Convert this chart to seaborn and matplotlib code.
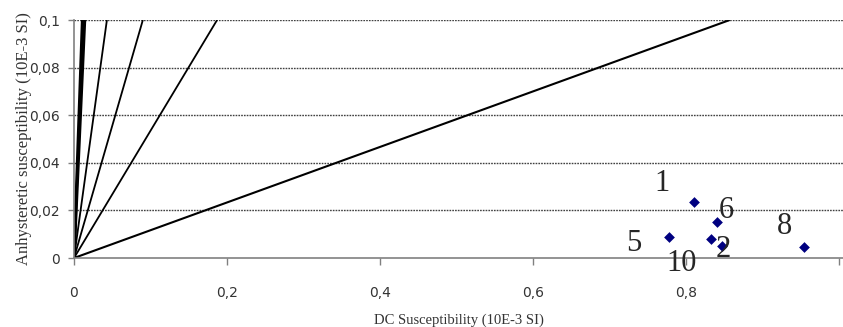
import numpy as np
import pandas as pd
import matplotlib
matplotlib.use("Agg")
import matplotlib.pyplot as plt
import seaborn as sns

# sample points (DC susceptibility, anhysteretic susceptibility), 10E-3 SI
sample_ids = ["1", "6", "5", "10", "2", "8"]
dc_chi = [0.810, 0.840, 0.777, 0.833, 0.847, 0.954]
arm_chi = [0.0235, 0.0150, 0.0090, 0.0080, 0.0050, 0.0048]

# where each reference line from the origin meets the top (y = 0.1)
line_top_x = [0.011, 0.014, 0.043, 0.090, 0.187, 0.857]
line_top_y = 0.1
line_widths = [2.2, 2.2, 1.3, 1.3, 1.3, 1.5]

# label positions (data units) next to the points
label_x = [0.768, 0.853, 0.732, 0.794, 0.848, 0.928]
label_y = [0.0315, 0.0198, 0.0062, -0.0022, 0.0034, 0.0134]

sns.set_style("white")
plt.rcParams["font.family"] = ["DejaVu Sans"]

fig = plt.figure(figsize=(8.43, 3.27), dpi=100)
ax = fig.add_axes([74 / 843, 69 / 327, 769 / 843, 238 / 327])

for xe, lw in zip(line_top_x, line_widths):
    ax.plot([0, xe], [0, line_top_y], color="black", lw=lw, solid_capstyle="butt", zorder=2)

df = pd.DataFrame({"dc": dc_chi, "arm": arm_chi, "id": sample_ids})
sns.scatterplot(data=df, x="dc", y="arm", marker="D", s=30, color="#000080",
                edgecolor="#000080", linewidth=0, ax=ax, zorder=3)

for t, lx, ly in zip(sample_ids, label_x, label_y):
    ax.text(lx, ly, t, fontsize=22, family="Liberation Serif", ha="center", va="center", zorder=4)

ax.set_xlim(0, 1.005)
ax.set_ylim(0, 0.1)
ax.set_xticks([0, 0.2, 0.4, 0.6, 0.8, 1.0])
ax.set_xticklabels(["0", "0,2", "0,4", "0,6", "0,8", ""])
ax.set_yticks([0, 0.02, 0.04, 0.06, 0.08, 0.1])
ax.set_yticklabels(["0", "0,02", "0,04", "0,06", "0,08", "0,1"])

for yv in [0.02, 0.04, 0.06, 0.08, 0.1]:
    ax.axhline(yv, color="#404040", lw=1.0, ls=(0, (1.2, 0.8)), zorder=1)

for side in ["top", "right"]:
    ax.spines[side].set_visible(False)
for side in ["left", "bottom"]:
    ax.spines[side].set_color("#808080")
    ax.spines[side].set_linewidth(1.2)

ax.tick_params(axis="x", direction="out", length=5, width=1, color="#808080",
               labelsize=10, labelcolor="#333333", pad=15, bottom=True)
ax.tick_params(axis="y", direction="out", length=4, width=1, color="#808080",
               labelsize=10, labelcolor="#333333", pad=6, left=True)

ax.set_xlabel("DC Susceptibility (10E-3 SI)", family="Liberation Serif", fontsize=10.5,
              color="#333333", labelpad=10)
ax.set_ylabel("Anhysteretic susceptibility (10E-3 SI)", family="Liberation Serif",
              fontsize=12, color="#333333", labelpad=-2)

fig.savefig("out.png", dpi=100)
